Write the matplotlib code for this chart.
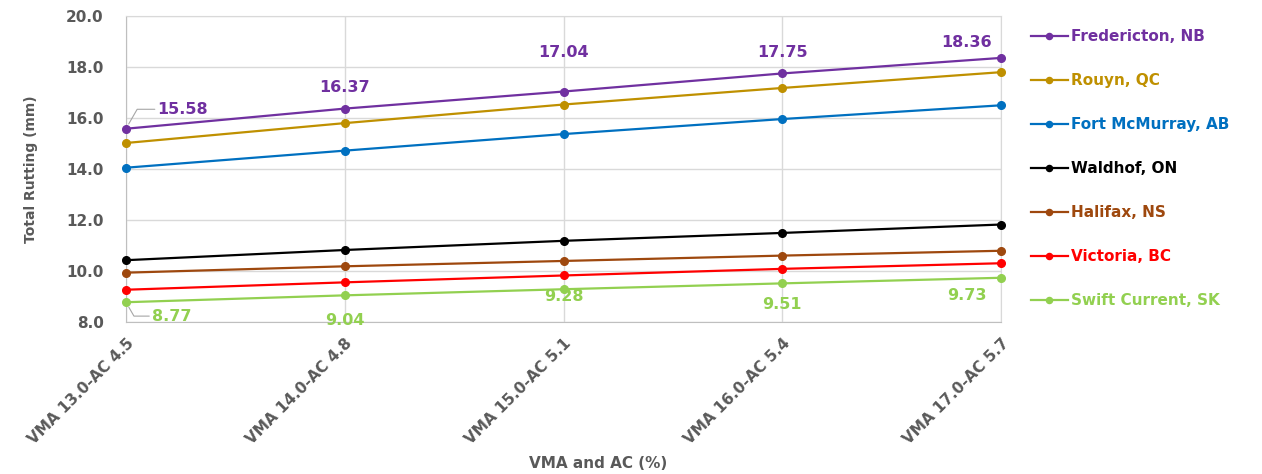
import matplotlib
matplotlib.use('Agg')
import matplotlib.pyplot as plt

plt.rcParams['font.family'] = ['DejaVu Sans']

categories = ['VMA 13.0-AC 4.5', 'VMA 14.0-AC 4.8', 'VMA 15.0-AC 5.1',
              'VMA 16.0-AC 5.4', 'VMA 17.0-AC 5.7']

sites = ['Fredericton, NB', 'Rouyn, QC', 'Fort McMurray, AB', 'Waldhof, ON',
         'Halifax, NS', 'Victoria, BC', 'Swift Current, SK']

fredericton = [15.58, 16.37, 17.04, 17.75, 18.36]
rouyn = [15.02, 15.80, 16.53, 17.18, 17.80]
fort_mcmurray = [14.05, 14.72, 15.37, 15.96, 16.50]
waldhof = [10.42, 10.82, 11.18, 11.49, 11.82]
halifax = [9.93, 10.18, 10.39, 10.60, 10.79]
victoria = [9.26, 9.55, 9.82, 10.08, 10.30]
swift_current = [8.77, 9.04, 9.28, 9.51, 9.73]

series = [fredericton, rouyn, fort_mcmurray, waldhof, halifax, victoria, swift_current]
colors = ['#7030A0', '#BF9000', '#0070C0', '#000000', '#9E480E', '#FF0000', '#92D050']

fig = plt.figure(figsize=(12.62, 4.74), dpi=100)
ax = fig.add_axes([0.0998, 0.321, 0.6935, 0.645])

x = range(len(categories))
for name, vals, c in zip(sites, series, colors):
    ax.plot(x, vals, color=c, lw=1.6, marker='o', ms=5.5, label=name, clip_on=False, zorder=3)

grey = '#595959'
# value labels on the top series (offsets in points)
top_off = [(41, 14), (0, 15), (0, 28), (0, 15), (-25, 11)]
for i, (v, off) in enumerate(zip(fredericton, top_off)):
    kw = {}
    if i == 0:
        kw['arrowprops'] = dict(arrowstyle='-', color='#A6A6A6', lw=0.8,
                                shrinkA=0, shrinkB=4,
                                connectionstyle='angle,angleA=0,angleB=60,rad=0')
    ax.annotate(f'{v:.2f}', (i, v), xytext=off, textcoords='offset points',
                ha='center', va='center', color=colors[0], fontsize=11.5,
                fontweight='bold', **kw)

# value labels on the bottom series
bot_off = [(33, -10), (0, -18), (0, -5), (0, -15), (-25, -13)]
for i, (v, off) in enumerate(zip(swift_current, bot_off)):
    kw = {}
    if i == 0:
        kw['arrowprops'] = dict(arrowstyle='-', color='#A6A6A6', lw=0.8,
                                shrinkA=0, shrinkB=4,
                                connectionstyle='angle,angleA=0,angleB=-60,rad=0')
    ax.annotate(f'{v:.2f}', (i, v), xytext=off, textcoords='offset points',
                ha='center', va='center', color=colors[6], fontsize=11.5,
                fontweight='bold', **kw)

ax.set_xlim(0, len(categories) - 1)
ax.set_ylim(8, 20)
ax.set_yticks([8, 10, 12, 14, 16, 18, 20])
ax.set_yticklabels([f'{t:.1f}' for t in ax.get_yticks()])
ax.set_xticks(list(x))
ax.set_xticklabels(categories, rotation=45, ha='right', rotation_mode='anchor')
ax.tick_params(axis='both', length=0, colors=grey, labelsize=11)
ax.tick_params(axis='x', pad=10)
ax.tick_params(axis='y', pad=16)
for lab in ax.get_xticklabels() + ax.get_yticklabels():
    lab.set_fontweight('bold')

ax.grid(True, color='#D9D9D9', lw=1)
ax.set_axisbelow(True)
for s in ax.spines.values():
    s.set_color('#D9D9D9')
ax.spines['left'].set_color('#BFBFBF')
ax.spines['bottom'].set_color('#BFBFBF')

ax.set_ylabel('Total Rutting (mm)', color=grey, fontsize=10, fontweight='bold')
ax.yaxis.set_label_coords(-0.1, 0.5)
ax.set_xlabel('VMA and AC (%)', color=grey, fontsize=11, fontweight='bold')
ax.xaxis.set_label_coords(0.54, -0.44)

ax.legend(loc='upper left', bbox_to_anchor=(1031 / 1262, 1 - 29 / 474),
          bbox_transform=fig.transFigure, borderpad=0, borderaxespad=0,
          frameon=False, labelcolor='linecolor', handlelength=2.4, handletextpad=0.25,
          labelspacing=1.9, markerscale=0.8, prop={'weight': 'bold', 'size': 11})

fig.savefig('out.png', dpi=100)
